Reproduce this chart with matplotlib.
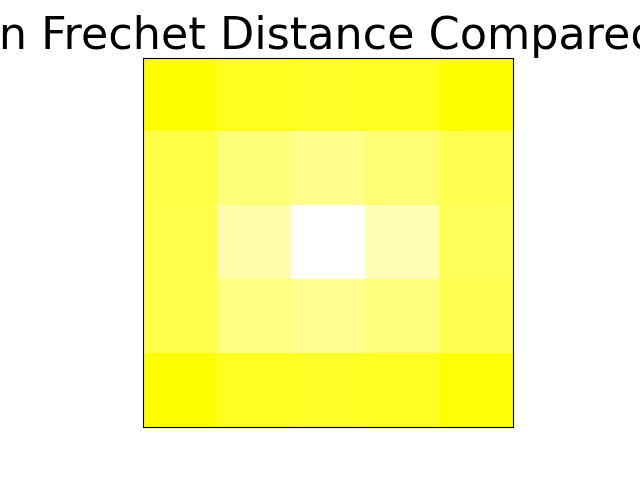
import numpy as np
import matplotlib
matplotlib.use('Agg')
import matplotlib.pyplot as plt
from matplotlib.colors import LinearSegmentedColormap

# distancia media de Frechet em cada celula da grade 5x5
distancias = [
    [1.00, 0.88, 0.84, 0.86, 1.00],
    [0.73, 0.53, 0.45, 0.55, 0.69],
    [0.71, 0.33, 0.01, 0.29, 0.65],
    [0.71, 0.49, 0.43, 0.51, 0.69],
    [1.00, 0.86, 0.84, 0.86, 0.98],
]
titulo = 'Mean Frechet Distance Compared (m)'

cmap = LinearSegmentedColormap.from_list('branco_amarelo', ['white', 'yellow'])

fig, ax = plt.subplots(figsize=(6.4, 4.8), dpi=100)
ax.imshow(np.array(distancias), cmap=cmap, vmin=0, vmax=1)
ax.set_xticks([])
ax.set_yticks([])
ax.set_title(titulo, fontsize=32)

plt.savefig('out.png')
